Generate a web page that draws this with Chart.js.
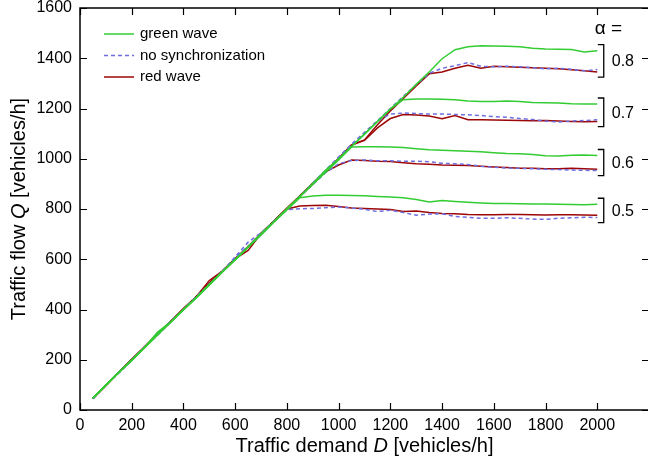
<!DOCTYPE html>
<html>
<head>
<meta charset="utf-8">
<script src="https://cdn.jsdelivr.net/npm/chart.js@4.4.1/dist/chart.umd.min.js"></script>
<style>
  html, body { margin: 0; padding: 0; background: #fff; overflow: hidden; }
  #wrap { width: 648px; height: 463px; overflow: hidden; }
</style>
</head>
<body>
<div id="wrap"><canvas id="chart" width="650" height="463"></canvas></div>
<script>
// traffic demand D [vehicles/h]
const demand = [50, 100, 150, 200, 250, 300, 350, 400, 450, 500, 550, 600, 650, 700, 750, 800, 850, 900, 950, 1000,
  1050, 1100, 1150, 1200, 1250, 1300, 1350, 1400, 1450, 1500, 1550, 1600, 1650, 1700, 1750, 1800, 1850, 1900, 1950, 2000];

const xTicks = [0, 200, 400, 600, 800, 1000, 1200, 1400, 1600, 1800, 2000];
const yTicks = [0, 200, 400, 600, 800, 1000, 1200, 1400, 1600];

// traffic flow Q [vehicles/h], alpha = 0.8
const green08 = [47, 99, 150, 199, 250, 310, 350, 400, 449, 500, 550, 599, 650, 700, 750, 800, 849, 900, 955, 1000,
  1048, 1098, 1148, 1198, 1245, 1296, 1345, 1398, 1434, 1446, 1450, 1449, 1448, 1446, 1440, 1437, 1436, 1435, 1425, 1430];
const noSync08 = [46, 100, 149, 200, 251, 299, 351, 399, 451, 501, 549, 610, 668, 705, 751, 799, 849, 903, 955, 1007,
  1058, 1105, 1152, 1200, 1248, 1295, 1340, 1360, 1370, 1383, 1368, 1366, 1368, 1366, 1362, 1358, 1360, 1356, 1350, 1355];
const red08 = [46, 99, 151, 200, 252, 302, 352, 402, 452, 515, 553, 602, 635, 702, 752, 803, 853, 902, 952, 1002,
  1055, 1075, 1135, 1190, 1240, 1290, 1338, 1345, 1360, 1372, 1360, 1368, 1366, 1364, 1362, 1360, 1358, 1354, 1350, 1345];

// alpha = 0.7
const green07 = [48, 99, 150, 200, 249, 299, 350, 400, 448, 499, 550, 600, 649, 700, 750, 801, 851, 901, 950, 1000,
  1050, 1098, 1148, 1198, 1235, 1238, 1238, 1237, 1235, 1230, 1228, 1228, 1230, 1228, 1224, 1223, 1222, 1219, 1218, 1218];
const noSync07 = [45, 98, 151, 199, 248, 301, 349, 402, 450, 500, 552, 604, 648, 701, 749, 800, 849, 901, 952, 1005,
  1055, 1100, 1150, 1178, 1182, 1180, 1178, 1178, 1176, 1175, 1172, 1168, 1165, 1160, 1156, 1150, 1146, 1150, 1152, 1155];
const red07 = [47, 98, 149, 201, 251, 301, 350, 403, 451, 503, 551, 600, 650, 702, 751, 802, 851, 899, 950, 1000,
  1055, 1073, 1123, 1160, 1176, 1174, 1170, 1159, 1172, 1155, 1155, 1154, 1153, 1152, 1151, 1152, 1150, 1148, 1147, 1148];

// alpha = 0.6
const green06 = [47, 99, 149, 199, 249, 301, 349, 399, 449, 499, 549, 598, 649, 699, 749, 799, 849, 899, 946, 995,
  1047, 1048, 1048, 1047, 1045, 1040, 1036, 1034, 1032, 1030, 1028, 1024, 1021, 1020, 1017, 1012, 1011, 1014, 1015, 1013];
const noSync06 = [45, 100, 148, 199, 250, 299, 352, 400, 450, 498, 550, 602, 650, 698, 750, 798, 850, 897, 945, 980,
  993, 995, 992, 992, 990, 990, 988, 982, 980, 977, 970, 966, 963, 962, 960, 958, 957, 955, 954, 953];
const red06 = [46, 98, 151, 201, 251, 302, 351, 401, 451, 502, 551, 601, 651, 701, 752, 803, 852, 902, 948, 975,
  995, 993, 990, 989, 984, 980, 978, 975, 974, 973, 970, 967, 965, 962, 962, 960, 960, 962, 960, 958];

// alpha = 0.5
const green05 = [48, 98, 148, 196, 248, 300, 348, 398, 446, 497, 548, 597, 648, 697, 748, 796, 845, 852, 855, 855,
  854, 853, 850, 848, 845, 838, 828, 834, 830, 827, 824, 822, 822, 821, 820, 820, 819, 818, 817, 819];
const noSync05 = [45, 99, 147, 198, 252, 298, 351, 401, 449, 500, 553, 607, 652, 699, 751, 797, 801, 802, 805, 808,
  804, 799, 790, 795, 786, 775, 780, 781, 770, 767, 763, 763, 765, 763, 760, 759, 763, 765, 767, 766];
const red05 = [46, 97, 150, 202, 252, 303, 352, 404, 452, 505, 552, 603, 650, 703, 752, 800, 812, 814, 815, 810,
  804, 802, 800, 798, 790, 792, 786, 782, 781, 778, 777, 777, 778, 778, 777, 776, 777, 777, 776, 775];

const groups = [
  { alpha: '0.8', green: green08, noSync: noSync08, red: red08 },
  { alpha: '0.7', green: green07, noSync: noSync07, red: red07 },
  { alpha: '0.6', green: green06, noSync: noSync06, red: red06 },
  { alpha: '0.5', green: green05, noSync: noSync05, red: red05 }
];

const FONT = '"Liberation Sans", Arial, Helvetica, sans-serif';
const GREEN = '#33cc33';
const BLUE = '#6f6fe0';
const RED = '#9c0606';

const series = [
  { key: 'green', label: 'green wave', color: GREEN, dash: [] },
  { key: 'noSync', label: 'no synchronization', color: BLUE, dash: [4, 3] },
  { key: 'red', label: 'red wave', color: RED, dash: [] }
];

function toPoints(values) {
  return demand.map((d, i) => ({ x: d, y: values[i] }));
}

// green on top, dashed in the middle, red underneath
const datasets = [];
series.forEach((s, si) => {
  groups.forEach(g => {
    datasets.push({
      label: s.label + ' ' + g.alpha,
      data: toPoints(g[s.key]),
      borderColor: s.color,
      borderDash: s.dash,
      borderWidth: 1.5,
      pointRadius: 0,
      fill: false,
      tension: 0,
      order: si
    });
  });
});

const decorations = {
  id: 'decorations',
  afterDraw(chart) {
    const { ctx, chartArea: a, scales: { x, y } } = chart;
    ctx.save();

    // frame
    ctx.strokeStyle = '#000';
    ctx.lineWidth = 1.5;
    ctx.strokeRect(a.left, a.top, a.right - a.left, a.bottom - a.top);

    // inward tick marks on all four sides
    ctx.lineWidth = 1.2;
    ctx.beginPath();
    xTicks.forEach(v => {
      const px = Math.round(x.getPixelForValue(v)) + 0.5;
      ctx.moveTo(px, a.bottom); ctx.lineTo(px, a.bottom - 7);
      ctx.moveTo(px, a.top); ctx.lineTo(px, a.top + 7);
    });
    yTicks.forEach(v => {
      const py = Math.round(y.getPixelForValue(v)) + 0.5;
      ctx.moveTo(a.left, py); ctx.lineTo(a.left + 7, py);
      ctx.moveTo(a.right, py); ctx.lineTo(a.right - 7, py);
    });
    ctx.stroke();

    ctx.fillStyle = '#000';
    ctx.textBaseline = 'middle';

    // x axis title with italic D
    const xParts = [['Traffic demand ', ''], ['D', 'italic '], [' [vehicles/h]', '']];
    let total = 0;
    xParts.forEach(p => { ctx.font = p[1] + '20px ' + FONT; total += ctx.measureText(p[0]).width; });
    let cx = (a.left + a.right) / 2 - total / 2;
    ctx.textAlign = 'left';
    xParts.forEach(p => {
      ctx.font = p[1] + '20px ' + FONT;
      ctx.fillText(p[0], cx, 446);
      cx += ctx.measureText(p[0]).width;
    });

    // y axis title with italic Q
    const yParts = [['Traffic flow ', ''], ['Q', 'italic '], [' [vehicles/h]', '']];
    total = 0;
    yParts.forEach(p => { ctx.font = p[1] + '20px ' + FONT; total += ctx.measureText(p[0]).width; });
    ctx.save();
    ctx.translate(19, (a.top + a.bottom) / 2);
    ctx.rotate(-Math.PI / 2);
    cx = -total / 2;
    yParts.forEach(p => {
      ctx.font = p[1] + '20px ' + FONT;
      ctx.fillText(p[0], cx, 0);
      cx += ctx.measureText(p[0]).width;
    });
    ctx.restore();

    // legend
    ctx.font = '15px ' + FONT;
    series.forEach((s, i) => {
      const ly = a.top + 26 + i * 21.5;
      ctx.strokeStyle = s.color;
      ctx.lineWidth = 1.5;
      ctx.setLineDash(s.dash);
      ctx.beginPath();
      ctx.moveTo(a.left + 24, ly);
      ctx.lineTo(a.left + 54, ly);
      ctx.stroke();
      ctx.setLineDash([]);
      ctx.fillStyle = '#000';
      ctx.fillText(s.label, a.left + 60, ly);
    });

    // brackets grouping the curves of each alpha
    const bx = x.getPixelForValue(2025);
    const sx = x.getPixelForValue(2002);
    ctx.strokeStyle = '#000';
    ctx.lineWidth = 1.3;
    ctx.font = '16px ' + FONT;
    groups.forEach(g => {
      const ends = [g.green, g.noSync, g.red].map(arr => y.getPixelForValue(arr[arr.length - 1]));
      const top = Math.min(...ends) - 6;
      const bot = Math.max(...ends) + 5;
      ctx.beginPath();
      ctx.moveTo(sx, top); ctx.lineTo(bx, top); ctx.lineTo(bx, bot); ctx.lineTo(sx, bot);
      ctx.stroke();
      ctx.fillText(g.alpha, bx + 8, (top + bot) / 2 + 1);
    });

    ctx.font = '19px ' + FONT;
    ctx.fillText('\u03b1 =', bx - 9, a.top + 21);

    ctx.restore();
  }
};

window.addEventListener('load', function () {
  const ctx = document.getElementById('chart');
  new Chart(ctx, {
    type: 'line',
    data: { datasets },
    options: {
      responsive: false,
      animation: false,
      layout: { padding: { top: 8, right: 1, left: 0, bottom: 0 } },
      plugins: { legend: { display: false }, tooltip: { enabled: false } },
      scales: {
        x: {
          type: 'linear',
          min: 0,
          max: 2200,
          afterBuildTicks: s => { s.ticks = xTicks.map(v => ({ value: v })); },
          afterFit: s => { s.height = 53; s.paddingLeft = 0; s.paddingRight = 0; },
          grid: { display: false, drawTicks: false },
          border: { display: false },
          ticks: { color: '#000', font: { family: FONT, size: 16, lineHeight: 1 }, padding: 8, maxRotation: 0,
            callback: v => String(v) }
        },
        y: {
          type: 'linear',
          min: 0,
          max: 1600,
          afterBuildTicks: s => { s.ticks = yTicks.map(v => ({ value: v })); },
          afterFit: s => { s.width = 80; s.paddingTop = 0; s.paddingBottom = 0; },
          grid: { display: false, drawTicks: false },
          border: { display: false },
          ticks: { color: '#000', font: { family: FONT, size: 16, lineHeight: 1 }, padding: 8,
            callback: v => String(v) }
        }
      }
    },
    plugins: [decorations]
  });
});
</script>
</body>
</html>
